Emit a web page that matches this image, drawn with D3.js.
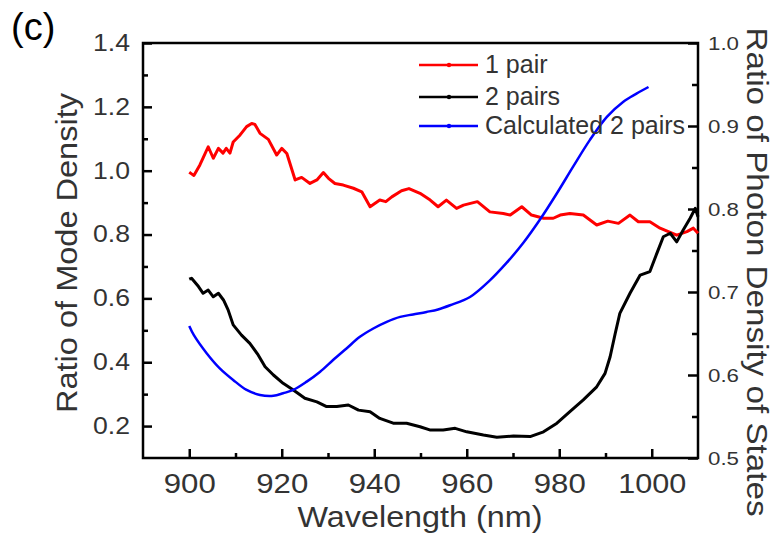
<!DOCTYPE html>
<html>
<head>
<meta charset="utf-8">
<script src="https://cdn.jsdelivr.net/npm/d3@7"></script>
<style>
  body { margin: 0; background: #fff; }
  text { font-family: "Liberation Sans", Arial, sans-serif; }
</style>
</head>
<body>
<div id="chart"></div>
<script>
// series: wavelength (nm) and value
var pair1Wl = [900, 900.5, 901, 902.3, 903, 904.1, 905.2, 906.3, 907.3, 908, 908.8, 909.5, 911, 912.4, 913.5, 914.2, 915.3, 917.1, 918.9, 920, 921.1, 922.9, 924.3, 926.1, 927.6, 929, 930.1, 931.5, 933.3, 935.5, 937.3, 939.1, 941.2, 942.5, 943.8, 945.9, 947.5, 949.9, 952.1, 953.8, 955.6, 957.8, 959.3, 962.3, 965, 967.9, 969.4, 971.9, 974, 976.6, 978.7, 980.2, 982.3, 985.2, 988.1, 990.5, 992.8, 995.3, 997.1, 999.6, 1001.8, 1003.6, 1005.4, 1007.6, 1009, 1010]
var pair1Val = [0.995, 0.99, 0.985, 1.018, 1.04, 1.075, 1.039, 1.07, 1.055, 1.07, 1.055, 1.09, 1.112, 1.138, 1.148, 1.145, 1.117, 1.098, 1.049, 1.07, 1.054, 0.971, 0.979, 0.96, 0.971, 0.994, 0.976, 0.96, 0.955, 0.945, 0.934, 0.887, 0.908, 0.903, 0.918, 0.937, 0.944, 0.929, 0.908, 0.887, 0.908, 0.882, 0.892, 0.903, 0.871, 0.866, 0.861, 0.887, 0.861, 0.851, 0.851, 0.861, 0.866, 0.861, 0.83, 0.842, 0.835, 0.861, 0.84, 0.84, 0.82, 0.809, 0.798, 0.809, 0.82, 0.804]

var pair2Wl = [900, 900.5, 902, 903, 904.1, 905.2, 906.3, 907.4, 908.4, 909.5, 911.3, 913.1, 914.9, 916.4, 918.2, 920.3, 922.5, 925, 927.6, 929.7, 931.9, 934.4, 936.6, 939.1, 941.2, 944.1, 947, 949.9, 952, 954.9, 957.5, 960, 963.6, 966.5, 970.1, 973.7, 976.6, 979.5, 982.3, 985.2, 988.1, 989.9, 991, 992.1, 993.1, 995.3, 997.5, 999.6, 1001.1, 1002.5, 1004, 1005.4, 1006.8, 1008.3, 1009.4, 1010]
var pair2Val = [0.66, 0.663, 0.637, 0.616, 0.626, 0.605, 0.616, 0.595, 0.564, 0.517, 0.485, 0.459, 0.423, 0.386, 0.36, 0.334, 0.313, 0.287, 0.276, 0.261, 0.261, 0.266, 0.25, 0.245, 0.224, 0.209, 0.209, 0.198, 0.188, 0.188, 0.193, 0.182, 0.172, 0.165, 0.169, 0.167, 0.182, 0.209, 0.245, 0.282, 0.323, 0.365, 0.417, 0.49, 0.553, 0.616, 0.673, 0.684, 0.741, 0.793, 0.804, 0.777, 0.814, 0.851, 0.882, 0.856]

// calculated curve is on the right axis
var calcWl = [900, 901, 903.8, 906.6, 909.5, 912.4, 915.3, 918.2, 920.3, 922.5, 925.4, 928.3, 931.1, 934, 936.9, 939.8, 942.7, 945.6, 948.4, 951.3, 953.8, 956.4, 960.7, 965, 968.6, 972.2, 975.8, 979.5, 983, 986.6, 990.3, 993.8, 996.7, 999.3]
var calcVal = [0.659, 0.648, 0.626, 0.608, 0.594, 0.582, 0.576, 0.575, 0.578, 0.582, 0.592, 0.604, 0.618, 0.632, 0.646, 0.656, 0.664, 0.67, 0.673, 0.676, 0.679, 0.684, 0.694, 0.714, 0.735, 0.759, 0.787, 0.819, 0.851, 0.883, 0.911, 0.929, 0.939, 0.947]

var seriesNames = ["1 pair", "2 pairs", "Calculated 2 pairs"]
var seriesColors = ["#ff0000", "#000000", "#0000ff"]

var xTicks = [900, 920, 940, 960, 980, 1000]
var yLeftTicks = [0.2, 0.4, 0.6, 0.8, 1.0, 1.2, 1.4]
var yRightTicks = [0.5, 0.6, 0.7, 0.8, 0.9, 1.0]

drawChart()

function drawChart() {
	var svg = d3.select("#chart")
		.append("svg")
		.attr("width", 777)
		.attr("height", 538)

	var left = 143, right = 698, top = 43, bottom = 458

	var x = d3.scaleLinear().domain([890, 1010]).range([left, right])
	var yL = d3.scaleLinear().domain([0.1, 1.4]).range([bottom, top])
	var yR = d3.scaleLinear().domain([0.5, 1.0]).range([bottom, top])

	var tickColor = "#333"

	// minor ticks first
	var minorX = d3.range(890, 1011, 10).filter(d => xTicks.indexOf(d) < 0 && d > 890 && d < 1010)
	svg.append("g")
		.attr("transform", `translate(0,${bottom})`)
		.call(d3.axisBottom(x).tickValues(minorX).tickSize(-5).tickFormat(""))
	svg.append("g")
		.attr("transform", `translate(${left},0)`)
		.call(d3.axisLeft(yL).tickValues([0.3, 0.5, 0.7, 0.9, 1.1, 1.3]).tickSize(-5).tickFormat(""))
	svg.append("g")
		.attr("transform", `translate(${right},0)`)
		.call(d3.axisRight(yR).tickValues([0.55, 0.65, 0.75, 0.85, 0.95]).tickSize(-6).tickFormat(""))

	// major ticks with labels
	var gx = svg.append("g")
		.attr("transform", `translate(0,${bottom})`)
		.call(d3.axisBottom(x).tickValues(xTicks).tickSize(-9).tickPadding(16).tickFormat(d3.format("d")))
	gx.selectAll(".tick text")
		.style("font-size", "27px")
		.attr("fill", tickColor)
		.attr("textLength", d => d >= 1000 ? 68 : 52)
		.attr("lengthAdjust", "spacingAndGlyphs")

	var gyl = svg.append("g")
		.attr("transform", `translate(${left},0)`)
		.call(d3.axisLeft(yL).tickValues(yLeftTicks).tickSize(-9).tickPadding(13).tickFormat(d3.format(".1f")))
	gyl.selectAll(".tick text")
		.style("font-size", "23px")
		.attr("fill", tickColor)
		.attr("textLength", 37)
		.attr("lengthAdjust", "spacingAndGlyphs")

	var gyr = svg.append("g")
		.attr("transform", `translate(${right},0)`)
		.call(d3.axisRight(yR).tickValues(yRightTicks).tickSize(-10).tickPadding(10).tickFormat(d3.format(".1f")))
	gyr.selectAll(".tick text")
		.style("font-size", "19px")
		.attr("fill", tickColor)
		.attr("textLength", 31)
		.attr("lengthAdjust", "spacingAndGlyphs")

	svg.selectAll(".domain").remove()
	svg.selectAll(".tick line")
		.attr("stroke", "#000")
		.attr("stroke-width", 2.5)

	// frame
	svg.append("rect")
		.attr("x", left)
		.attr("y", top)
		.attr("width", right - left)
		.attr("height", bottom - top)
		.attr("fill", "none")
		.attr("stroke", "#000")
		.attr("stroke-width", 2.5)

	var lineL = d3.line()
		.x(d => x(d[0]))
		.y(d => yL(d[1]))
	var lineR = d3.line()
		.curve(d3.curveCatmullRom)
		.x(d => x(d[0]))
		.y(d => yR(d[1]))

	var curves = svg.append("g").attr("class", "Lines")
	curves.append("path")
		.attr("d", lineL(d3.zip(pair1Wl, pair1Val)))
		.attr("stroke", seriesColors[0])
		.attr("stroke-width", 3)
		.attr("stroke-linejoin", "round")
		.attr("fill", "none")
	curves.append("path")
		.attr("d", lineL(d3.zip(pair2Wl, pair2Val)))
		.attr("stroke", seriesColors[1])
		.attr("stroke-width", 3)
		.attr("stroke-linejoin", "round")
		.attr("fill", "none")
	curves.append("path")
		.attr("d", lineR(d3.zip(calcWl, calcVal)))
		.attr("stroke", seriesColors[2])
		.attr("stroke-width", 2.5)
		.attr("fill", "none")

	// legend
	var legend = svg.append("g")
		.attr("class", "legend")
		.selectAll("g")
		.data(seriesNames)
		.enter()
		.append("g")
		.attr("transform", (d, i) => `translate(419,${[65, 97, 126][i]})`)
	legend.append("line")
		.attr("x1", 0)
		.attr("x2", 59)
		.attr("stroke", (d, i) => seriesColors[i])
		.attr("stroke-width", 2.5)
	legend.append("circle")
		.attr("cx", 30)
		.attr("r", 2.2)
		.attr("fill", (d, i) => seriesColors[i])
	legend.append("text")
		.attr("x", 66)
		.attr("y", 8)
		.text(d => d)
		.style("font-size", "25px")
		.attr("fill", tickColor)

	// axis titles
	svg.append("text")
		.attr("transform", "translate(77,253) rotate(-90)")
		.style("text-anchor", "middle")
		.style("font-size", "30px")
		.attr("fill", tickColor)
		.attr("textLength", 320)
		.attr("lengthAdjust", "spacingAndGlyphs")
		.text("Ratio of Mode Density")

	svg.append("text")
		.attr("transform", "translate(747,272) rotate(90)")
		.style("text-anchor", "middle")
		.style("font-size", "30px")
		.attr("fill", tickColor)
		.attr("textLength", 489)
		.attr("lengthAdjust", "spacingAndGlyphs")
		.text("Ratio of Photon Density of States")

	svg.append("text")
		.attr("x", 420)
		.attr("y", 527)
		.style("text-anchor", "middle")
		.style("font-size", "30px")
		.attr("fill", tickColor)
		.attr("textLength", 245)
		.attr("lengthAdjust", "spacingAndGlyphs")
		.text("Wavelength (nm)")

	svg.append("text")
		.attr("x", 11)
		.attr("y", 40)
		.style("font-size", "38px")
		.attr("fill", "#000")
		.text("(c)")
}
</script>
</body>
</html>
